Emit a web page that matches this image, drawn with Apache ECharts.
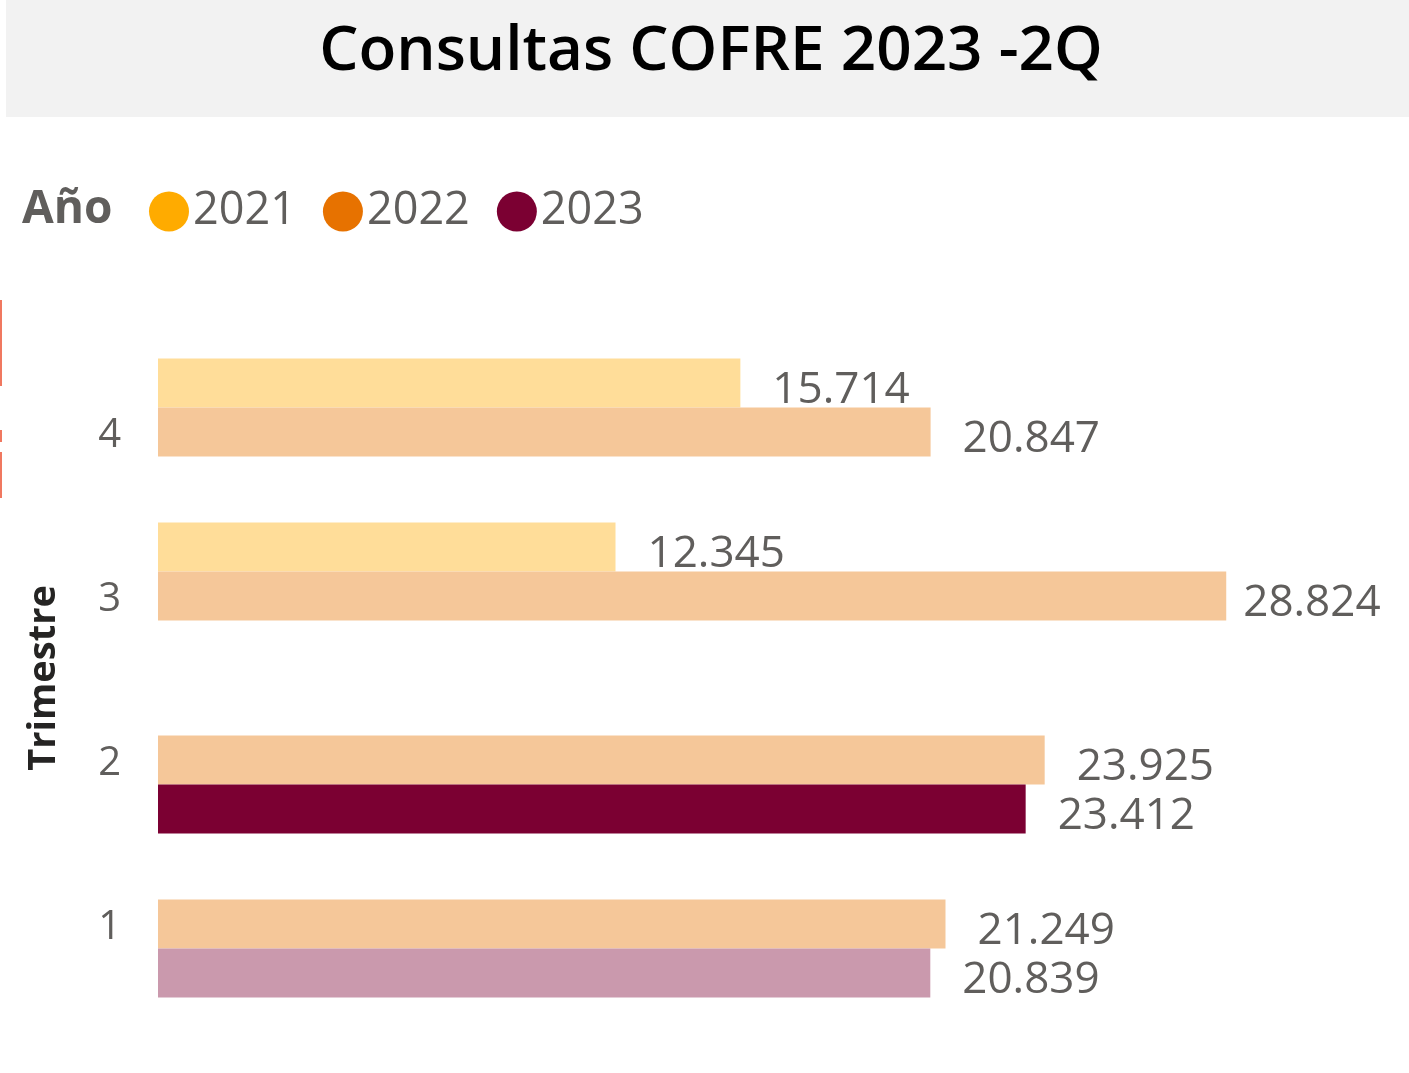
<!DOCTYPE html>
<html>
<head>
<meta charset="utf-8">
<title>Consultas COFRE 2023 -2Q</title>
<script src="https://cdn.jsdelivr.net/npm/echarts@6/dist/echarts.min.js"></script>
<style>
  html, body { margin: 0; padding: 0; background: #ffffff; }
  #chart { width: 1409px; height: 1073px; }
</style>
</head>
<body>
<div id="chart"></div>
<script>
  const quarters = ["1", "2", "3", "4"];
  const years = ["2021", "2022", "2023"];
  const values2021 = [null, null, 12345, 15714];
  const values2022 = [21249, 23925, 28824, 20847];
  const values2023 = [20839, 23412, null, null];
  const yearColors = ["#FFAB00", "#E77200", "#7B0032"];
  const selectedYear = "2023";
  const selectedQuarter = "2";

  const seriesValues = [values2021, values2022, values2023];
  const textGrey = "#605E5C";
  const font = "'Open Sans', 'Noto Sans', sans-serif";

  const formatNumber = (value) =>
    String(value).replace(/\B(?=(\d{3})+(?!\d))/g, ".");

  // faded look of the non-selected bars (colour at 40% over white)
  const fade = (hex, alpha) => {
    const n = parseInt(hex.slice(1), 16);
    const mix = (c) => Math.round(c * alpha + 255 * (1 - alpha));
    return `rgb(${mix(n >> 16)}, ${mix((n >> 8) & 255)}, ${mix(n & 255)})`;
  };

  const maxValue = Math.max(...seriesValues.flat().filter((v) => v != null));

  const chart = echarts.init(document.getElementById("chart"));

  const series = years.map((year, i) => ({
    name: year,
    type: "bar",
    barWidth: 49,
    barGap: "0%",
    color: yearColors[i],
    data: seriesValues[i].map((value, q) => {
      const selected = year === selectedYear && quarters[q] === selectedQuarter;
      return {
        value: value,
        itemStyle: { color: selected ? yearColors[i] : fade(yearColors[i], 0.4) },
        label: { distance: value === maxValue ? 17 : 32 },
      };
    }),
    label: {
      show: true,
      position: "right",
      distance: 32,
      offset: [0, 7],
      fontFamily: font,
      fontSize: 44,
      color: textGrey,
      formatter: (p) => formatNumber(p.value),
    },
  }));

  chart.setOption({
    animation: false,
    backgroundColor: "#ffffff",
    graphic: [
      {
        type: "rect",
        shape: { x: 6, y: 0, width: 1403, height: 117 },
        style: { fill: "#F2F2F2" },
        z: -1,
      },
      {
        type: "text",
        x: 711,
        y: 52,
        style: {
          text: "Consultas COFRE 2023 -2Q",
          fontFamily: font,
          fontWeight: 600,
          fontSize: 62,
          fill: "#000000",
          align: "center",
          verticalAlign: "middle",
        },
      },
      {
        type: "text",
        x: 22,
        y: 210,
        style: {
          text: "Año",
          fontFamily: font,
          fontWeight: "bold",
          fontSize: 46,
          fill: textGrey,
          verticalAlign: "middle",
        },
      },
      { type: "rect", shape: { x: 0, y: 300, width: 2, height: 86 }, style: { fill: "#F07860" } },
      { type: "rect", shape: { x: 0, y: 430, width: 2, height: 12 }, style: { fill: "#F07860" } },
      { type: "rect", shape: { x: 0, y: 452, width: 2, height: 46 }, style: { fill: "#F07860" } },
    ],
    legend: {
      data: years,
      left: 144,
      top: 184,
      icon: "circle",
      itemWidth: 40,
      itemHeight: 40,
      itemGap: 27,
      textStyle: { fontFamily: font, fontSize: 45, color: textGrey, padding: [0, 0, 0, -1] },
    },
    grid: { left: 158, right: 28, top: 350, bottom: 67 },
    xAxis: {
      type: "value",
      min: 0,
      max: 33000,
      show: false,
    },
    yAxis: {
      type: "category",
      data: quarters,
      axisLine: { show: false },
      axisTick: { show: false },
      axisLabel: {
        fontFamily: font,
        fontSize: 40,
        color: textGrey,
        margin: 37,
        formatter: "{q|{value}}",
        rich: { q: { fontFamily: font, fontSize: 40, color: textGrey, padding: [8, 0, 0, 0] } },
      },
      name: "Trimestre",
      nameLocation: "middle",
      nameRotate: 90,
      nameGap: 95,
      nameTextStyle: { fontFamily: font, fontWeight: "bold", fontSize: 38, color: "#252423" },
    },
    series: series,
  });
</script>
</body>
</html>
